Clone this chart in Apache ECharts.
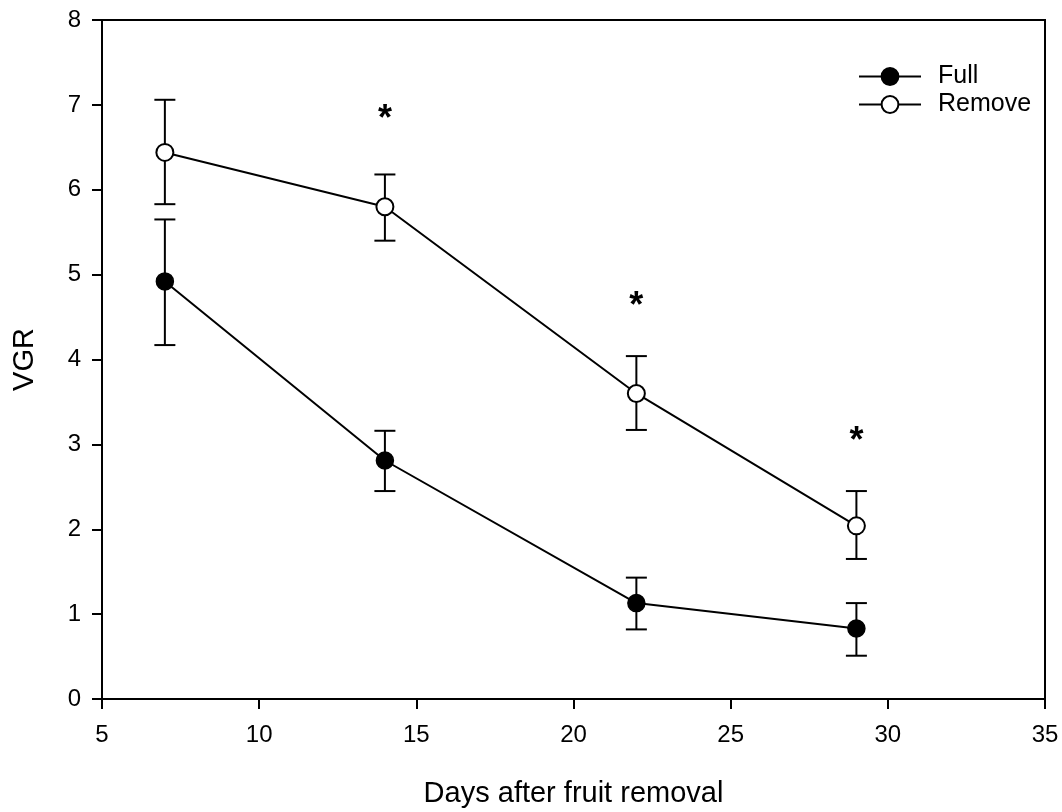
<!DOCTYPE html>
<html>
<head>
<meta charset="utf-8">
<script src="https://cdn.jsdelivr.net/npm/echarts@6/dist/echarts.min.js"></script>
<style>
  html, body { margin: 0; padding: 0; background: #fff; }
  #chart { width: 1062px; height: 812px; }
</style>
</head>
<body>
<div id="chart"></div>
<script>
// Days after fruit removal
const days = [7, 14, 22, 29];

// VGR means and error limits
const fullMean = [4.92, 2.81, 1.13, 0.83];
const fullLow  = [4.17, 2.45, 0.82, 0.51];
const fullHigh = [5.65, 3.16, 1.43, 1.13];

const removeMean = [6.44, 5.80, 3.60, 2.04];
const removeLow  = [5.83, 5.40, 3.17, 1.65];
const removeHigh = [7.06, 6.18, 4.04, 2.45];

// significance markers (day, height)
const starDays = [14, 22, 29];
const starY    = [6.94, 4.73, 3.15];

const FONT = '"Liberation Sans", Arial, sans-serif';

function pairs(xs, ys) { return xs.map((x, i) => [x, ys[i]]); }

function errorSeries(low, high) {
  return {
    type: 'custom',
    silent: true,
    z: 1,
    data: days.map((d, i) => [d, low[i], high[i]]),
    renderItem: function (params, api) {
      const lo = api.coord([api.value(0), api.value(1)]);
      const hi = api.coord([api.value(0), api.value(2)]);
      const hw = 10.5;
      const style = { stroke: '#000', lineWidth: 2, fill: null };
      return {
        type: 'group',
        children: [
          { type: 'line', shape: { x1: lo[0], y1: lo[1], x2: hi[0], y2: hi[1] }, style },
          { type: 'line', shape: { x1: lo[0] - hw, y1: lo[1], x2: lo[0] + hw, y2: lo[1] }, style },
          { type: 'line', shape: { x1: hi[0] - hw, y1: hi[1], x2: hi[0] + hw, y2: hi[1] }, style }
        ]
      };
    },
    encode: { x: 0, y: [1, 2] }
  };
}

const chart = echarts.init(document.getElementById('chart'), null, { renderer: 'canvas' });

chart.setOption({
  animation: false,
  backgroundColor: '#fff',
  grid: {
    left: 102, right: 17, top: 20, bottom: 113,
    containLabel: false,
    outerBoundsMode: 'none',
    show: true, borderColor: '#000', borderWidth: 2, backgroundColor: 'transparent'
  },
  legend: {
    left: 858, top: 64,
    padding: 0,
    orient: 'vertical',
    itemGap: 3,
    itemWidth: 62,
    itemHeight: 21,
    textStyle: { fontFamily: FONT, fontSize: 25, color: '#000', padding: [0, 0, 0, 12] },
    data: ['Full', 'Remove']
  },
  xAxis: {
    type: 'value', min: 5, max: 35, interval: 5,
    name: 'Days after fruit removal',
    nameLocation: 'middle', nameGap: 80,
    nameMoveOverlap: false,
    nameTextStyle: { fontFamily: FONT, fontSize: 29, color: '#000' },
    axisLine: { show: true, lineStyle: { color: '#000', width: 2 } },
    axisTick: { show: true, inside: false, length: 10, lineStyle: { color: '#000', width: 2 } },
    axisLabel: { fontFamily: FONT, fontSize: 24, color: '#000', margin: 24 },
    splitLine: { show: false }
  },
  yAxis: {
    type: 'value', min: 0, max: 8, interval: 1,
    name: 'VGR',
    nameLocation: 'middle', nameGap: 63,
    nameMoveOverlap: false,
    nameTextStyle: { fontFamily: FONT, fontSize: 29, color: '#000' },
    axisLine: { show: true, lineStyle: { color: '#000', width: 2 } },
    axisTick: { show: true, inside: false, length: 10, lineStyle: { color: '#000', width: 2 } },
    axisLabel: { fontFamily: FONT, fontSize: 24, color: '#000', margin: 21 },
    splitLine: { show: false }
  },
  series: [
    errorSeries(fullLow, fullHigh),
    errorSeries(removeLow, removeHigh),
    {
      name: 'Full', type: 'line', z: 3,
      data: pairs(days, fullMean),
      symbol: 'circle', symbolSize: 17,
      lineStyle: { color: '#000', width: 2 },
      itemStyle: { color: '#000', borderColor: '#000', borderWidth: 1.5 }
    },
    {
      name: 'Remove', type: 'line', z: 3,
      data: pairs(days, removeMean),
      symbol: 'circle', symbolSize: 17,
      lineStyle: { color: '#000', width: 2 },
      itemStyle: { color: '#fff', borderColor: '#000', borderWidth: 2 }
    },
    {
      type: 'custom', silent: true, z: 4,
      data: pairs(starDays, starY),
      encode: { x: 0, y: 1 },
      renderItem: function (params, api) {
        const p = api.coord([api.value(0), api.value(1)]);
        return {
          type: 'text',
          x: p[0], y: p[1] + 10,
          style: {
            text: '*', fill: '#000',
            font: 'bold 36px ' + FONT,
            align: 'center', verticalAlign: 'middle'
          }
        };
      }
    }
  ]
});
</script>
</body>
</html>
